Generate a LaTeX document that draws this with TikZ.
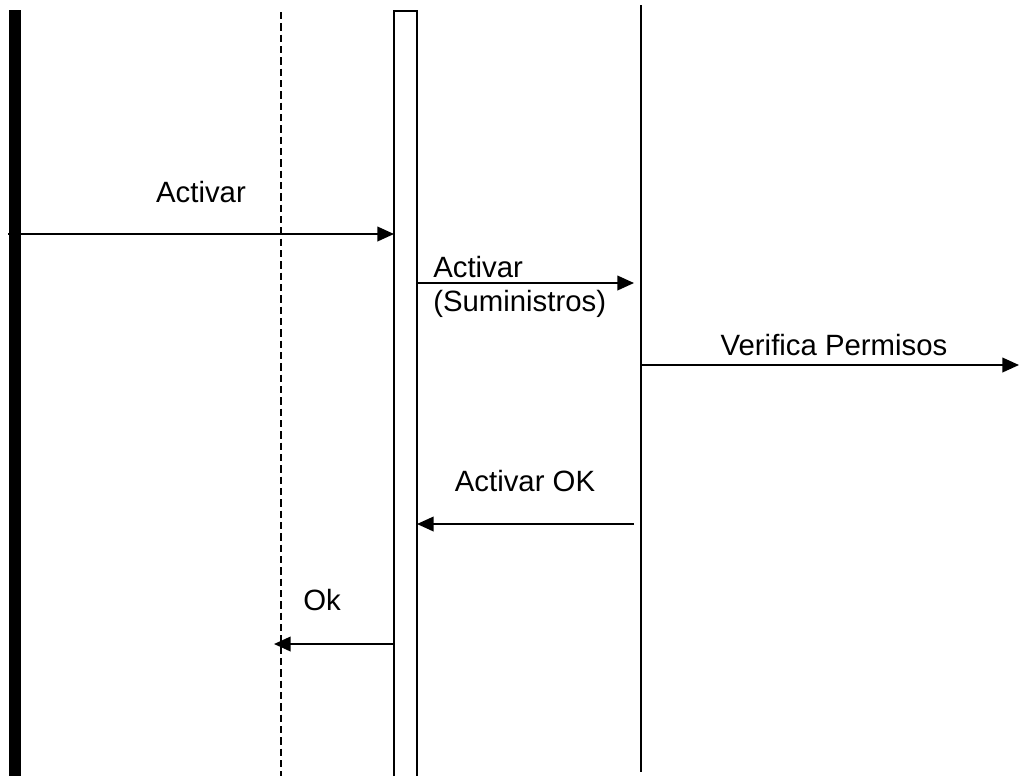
\documentclass[tikz,border=0pt]{standalone}
\usepackage{fontspec}
\setmainfont{Liberation Sans}
\usetikzlibrary{arrows.meta}

\begin{document}
\begin{tikzpicture}[x=0.75pt,y=-0.75pt,
    msg/.style={line width=1.3pt,-{Triangle[length=12.5pt,width=11pt]}},
    lbl/.style={inner sep=0pt,font=\fontsize{22}{25}\selectfont},
    life/.style={line width=0.9pt}]
    \useasboundingbox (0,0) rectangle (1019,776);

    % Lifelines
    \coordinate (U) at (8,234);      % actor bar
    \coordinate (D) at (281,644);    % dashed lifeline
    \coordinate (AL) at (394,234);   % activation box, left side
    \coordinate (AR) at (417,283);   % activation box, right side
    \coordinate (S) at (641,365);    % system lifeline

    \fill (9,10) rectangle (21,776);
    \draw[life,dash pattern=on 5.5pt off 3pt] (281,12) -- (281,776);
    \draw[line width=1.1pt] (394,776) |- (417,11) -- (417,776);
    \draw[life] (641,5) -- (641,772);

    % Message ends
    \coordinate (M2) at (634,283);
    \coordinate (M3) at (1019,365);
    \coordinate (M4a) at (634,524);
    \coordinate (M4b) at (417,524);
    \coordinate (M5a) at (394,644);
    \coordinate (M5b) at (274,644);

    % Messages
    \draw[msg] (U) -- (AL);
    \draw[msg] (AR) -- (M2);
    \draw[msg] (S) -- (M3);
    \draw[msg] (M4a) -- (M4b);
    \draw[msg] (M5a) -- (M5b);

    % Labels
    \node[lbl] (l1) at (201,192) {Activar};
    \node[lbl,align=left,anchor=west] (l2) at (433,287) {Activar\\(Suministros)};
    \node[lbl] (l3) at (834,345) {Verifica Permisos};
    \node[lbl] (l4) at (525,481) {Activar OK};
    \node[lbl] (l5) at (322,600) {Ok};
\end{tikzpicture}
\end{document}
